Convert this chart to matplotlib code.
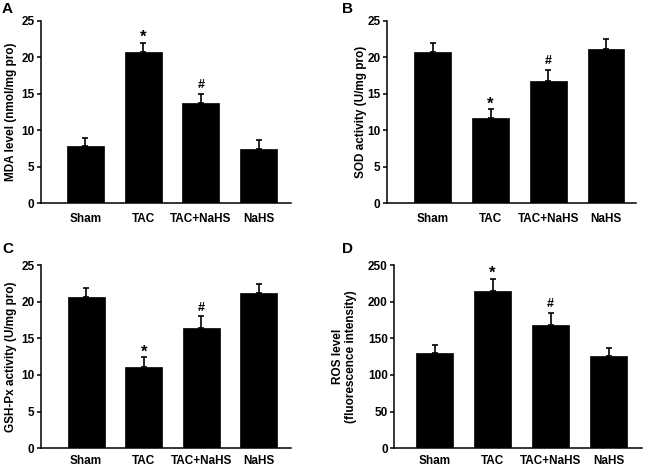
import matplotlib
matplotlib.use('Agg')
import matplotlib.pyplot as plt

plt.rcParams['font.family'] = ['Liberation Sans', 'DejaVu Sans']
plt.rcParams['font.weight'] = 'bold'

groups = ['Sham', 'TAC', 'TAC+NaHS', 'NaHS']

mda = [7.9, 20.7, 13.7, 7.45]
mda_err = [1.1, 1.3, 1.3, 1.15]
mda_marks = ['', '*', '#', '']

sod = [20.75, 11.65, 16.75, 21.15]
sod_err = [1.25, 1.2, 1.5, 1.4]
sod_marks = ['', '*', '#', '']

gsh = [20.7, 11.05, 16.45, 21.15]
gsh_err = [1.2, 1.4, 1.55, 1.2]
gsh_marks = ['', '*', '#', '']

ros = [130.5, 215, 168, 126]
ros_err = [10, 16, 17, 11]
ros_marks = ['', '*', '#', '']

W, H = 647, 467
fig = plt.figure(figsize=(W / 100, H / 100), dpi=100)


def px_axes(left, right, top, bottom):
    return fig.add_axes([left / W, 1 - bottom / H, (right - left) / W, (bottom - top) / H])


panels = [
    # letter, values, errors, marks, ylabel, ymax, ystep, box(px), xlim, label x, letter pos, x pad
    ('A', mda, mda_err, mda_marks, 'MDA level (nmol/mg pro)', 25, 5,
     (40.7, 291, 20.7, 203.3), (-0.77, 3.56), -0.095, (2, 2), 7),
    ('B', sod, sod_err, sod_marks, 'SOD activity (U/mg pro)', 25, 5,
     (386.7, 636, 20.7, 203.3), (-0.80, 3.52), -0.078, (342, 2), 7),
    ('C', gsh, gsh_err, gsh_marks, 'GSH-Px activity (U/mg pro)', 25, 5,
     (40.7, 291, 265, 448.3), (-0.79, 3.56), -0.095, (2, 242), 5),
    ('D', ros, ros_err, ros_marks, 'ROS level\n(fluorescence intensity)', 250, 50,
     (394, 641.7, 265, 448.3), (-0.70, 3.57), -0.151, (342, 242), 5),
]

for letter, vals, errs, marks, ylab, ymax, ystep, box, xl, labx, lpos, xpad in panels:
    ax = px_axes(*box)
    xs = list(range(len(groups)))
    ax.bar(xs, vals, width=0.64, color='black', edgecolor='black', linewidth=0.5, zorder=2)
    ax.errorbar(xs, vals, yerr=[[0] * len(errs), errs], fmt='none', ecolor='black',
                elinewidth=1.2, capsize=2.0, capthick=1.2, zorder=3)
    for x, v, e, m in zip(xs, vals, errs, marks):
        if m == '*':
            ax.annotate(m, (x, v + e), xytext=(0, 0.5), textcoords='offset points',
                        ha='center', va='baseline', fontsize=12, fontweight='bold',
                        annotation_clip=False)
        elif m == '#':
            ax.annotate(m, (x, v + e), xytext=(0, 4), textcoords='offset points',
                        ha='center', va='baseline', fontsize=9, fontweight='bold',
                        annotation_clip=False)
    ax.set_xlim(*xl)
    ax.set_ylim(0, ymax)
    ax.set_yticks(range(0, ymax + 1, ystep))
    ax.set_xticks(xs)
    ax.set_xticklabels(groups)
    for s in ['top', 'right']:
        ax.spines[s].set_visible(False)
    for s in ['left', 'bottom']:
        ax.spines[s].set_linewidth(1.1)
    ax.tick_params(axis='y', direction='out', length=3, width=1.1, pad=1.5, labelsize=8.5)
    ax.tick_params(axis='x', length=0, pad=xpad, labelsize=8.5)
    ax.set_ylabel(ylab, fontsize=8.5, fontweight='bold', linespacing=1.1)
    ax.yaxis.set_label_coords(labx, 0.5)
    fig.text(lpos[0] / W, 1 - lpos[1] / H, letter, fontsize=11, fontweight='bold',
             ha='left', va='top')

fig.savefig('out.png', dpi=100)
